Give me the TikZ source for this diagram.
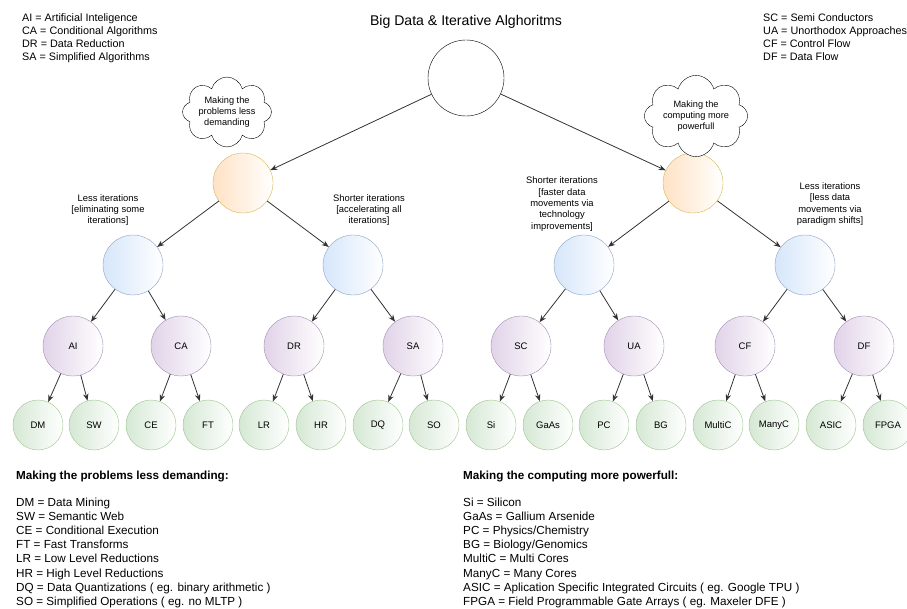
\documentclass[tikz,border=0pt]{standalone}
\usepackage{fontspec}
\setmainfont{Liberation Sans}
\usetikzlibrary{shapes.symbols,arrows.meta}
\definecolor{orangefill}{HTML}{FFE2C4}
\definecolor{orangeline}{HTML}{D6B656}
\definecolor{bluefill}{HTML}{D6E6FA}
\definecolor{blueline}{HTML}{8AA4C4}
\definecolor{purplefill}{HTML}{E1D3E8}
\definecolor{purpleline}{HTML}{A58BB5}
\definecolor{greenfill}{HTML}{D5E8D4}
\definecolor{greenline}{HTML}{9CC48C}
\definecolor{edgegray}{HTML}{333333}

\begin{document}
\begin{tikzpicture}[x=1pt,y=-1pt]
  \useasboundingbox (0,0) rectangle (907,609);
  \tikzset{RT/.style={circle, draw=black, fill=white, minimum size=76pt, inner sep=0}}
  \tikzset{OR/.style={circle, draw=orangeline, left color=orangefill, right color=white, minimum size=60pt, inner sep=0}}
  \tikzset{BL/.style={circle, draw=blueline, left color=bluefill, right color=white, minimum size=60pt, inner sep=0}}
  \tikzset{PU/.style={circle, draw=purpleline, left color=purplefill, right color=white, minimum size=60pt, inner sep=0, font=\fontsize{9.5}{11}\selectfont}}
  \tikzset{GR/.style={circle, draw=greenline, left color=greenfill, right color=white, minimum size=50pt, inner sep=0, font=\fontsize{9.5}{11}\selectfont}}
  \tikzset{CL/.style={cloud, draw=black, fill=white, cloud puffs=8, aspect=1.6, inner sep=0, align=center, font=\fontsize{9.2}{11}\selectfont}}
  \tikzset{TX/.style={align=center, inner sep=0, font=\fontsize{9.4}{11.3}\selectfont}}
  \tikzset{KEY/.style={anchor=north west, align=left, inner sep=0}}
  \tikzset{E/.style={draw=edgegray, line width=.8pt, -{Stealth[length=7pt,width=5.5pt]}}}

  % title and keys
  \node [anchor=base, inner sep=0, font=\fontsize{14.1}{16}\selectfont] (title) at (466,26) {Big Data \& Iterative Alghoritms};
  \node [KEY, font=\fontsize{10.8}{13.3}\selectfont] (keyTL) at (22,13) {AI = Artificial Inteligence\\CA = Conditional Algorithms\\DR = Data Reduction\\SA = Simplified Algorithms};
  \node [KEY, font=\fontsize{10.8}{13.3}\selectfont] (keyTR) at (763,13) {SC = Semi Conductors\\UA = Unorthodox Approaches\\CF = Control Flow\\DF = Data Flow};

  % tree
  \node [RT] (root) at (466,78)  {};
  \node [OR] (less) at (243,183) {};
  \node [OR] (more) at (693,183) {};
  \node [BL] (b1)   at (133,265) {};
  \node [BL] (b2)   at (353,265) {};
  \node [BL] (b3)   at (584,265) {};
  \node [BL] (b4)   at (805,265) {};
  \node [PU] (AI)   at (73,346)  {AI};
  \node [PU] (CA)   at (181,346) {CA};
  \node [PU] (DR)   at (294,346) {DR};
  \node [PU] (SA)   at (413,346) {SA};
  \node [PU] (SC)   at (521,346) {SC};
  \node [PU] (UA)   at (634,346) {UA};
  \node [PU] (CF)   at (745,346) {CF};
  \node [PU] (DF)   at (864,346) {DF};
  \node [GR] (DM)   at (38,425)  {DM};
  \node [GR] (SW)   at (94,425)  {SW};
  \node [GR] (CE)   at (151,425) {CE};
  \node [GR] (FT)   at (208,425) {FT};
  \node [GR] (LR)   at (264,425) {LR};
  \node [GR] (HR)   at (321,425) {HR};
  \node [GR] (DQ)   at (378,425) {DQ};
  \node [GR] (SO)   at (434,425) {SO};
  \node [GR] (Si)   at (491,425) {Si};
  \node [GR] (GaAs) at (548,425) {GaAs};
  \node [GR] (PC)   at (604,425) {PC};
  \node [GR] (BG)   at (661,425) {BG};
  \node [GR] (MultiC) at (718,425) {MultiC};
  \node [GR] (ManyC)  at (774,425) {ManyC};
  \node [GR] (ASIC) at (831,425) {ASIC};
  \node [GR] (FPGA) at (888,425) {FPGA};

  \node [CL] (cl1) at (227,112) {Making the\\problems less\\demanding};
  \node [CL] (cl2) at (696,116) {Making the\\computing more\\powerfull};

  \node [TX] (t1) at (108,210) {Less iterations\\{[}eliminating some\\iterations{]}};
  \node [TX] (t2) at (369,210) {Shorter iterations\\{[}accelerating all\\iterations{]}};
  \node [TX] (t3) at (562,204) {Shorter iterations\\{[}faster data\\movements via\\technology\\improvements{]}};
  \node [TX] (t4) at (830,204) {Less iterations\\{[}less data\\movements via\\paradigm shifts{]}};

  \foreach \from/\to in {root/less,root/more,less/b1,less/b2,more/b3,more/b4}
    \draw[E] (\from) -- (\to);
  \foreach \from/\to in {b1/AI,b1/CA,b2/DR,b2/SA,b3/SC,b3/UA,b4/CF,b4/DF}
    \draw[E] (\from) -- (\to);
  \foreach \from/\to in {AI/DM,AI/SW,CA/CE,CA/FT,DR/LR,DR/HR,SA/DQ,SA/SO,SC/Si,SC/GaAs,UA/PC,UA/BG,CF/MultiC,CF/ManyC,DF/ASIC,DF/FPGA}
    \draw[E] (\from) -- (\to);

  % bottom keys
  \node [KEY, font=\bfseries\fontsize{11.7}{14.2}\selectfont] (headL) at (16,471) {Making the problems less demanding:};
  \node [KEY, font=\fontsize{11.7}{14.2}\selectfont] (keyBL) at (16,497.5) {DM = Data Mining\\SW = Semantic Web\\CE = Conditional Execution\\FT = Fast Transforms\\LR = Low Level Reductions\\HR = High Level Reductions\\DQ = Data Quantizations ( eg. binary arithmetic )\\SO = Simplified Operations ( eg. no MLTP )};
  \node [KEY, font=\bfseries\fontsize{11.7}{14.2}\selectfont] (headR) at (463,471) {Making the computing more powerfull:};
  \node [KEY, font=\fontsize{11.7}{14.2}\selectfont] (keyBR) at (463,497.5) {Si = Silicon\\GaAs = Gallium Arsenide\\PC = Physics/Chemistry\\BG = Biology/Genomics\\MultiC = Multi Cores\\ManyC = Many Cores\\ASIC = Aplication Specific Integrated Circuits ( eg. Google TPU )\\FPGA = Field Programmable Gate Arrays ( eg. Maxeler DFE )};
\end{tikzpicture}
\end{document}
